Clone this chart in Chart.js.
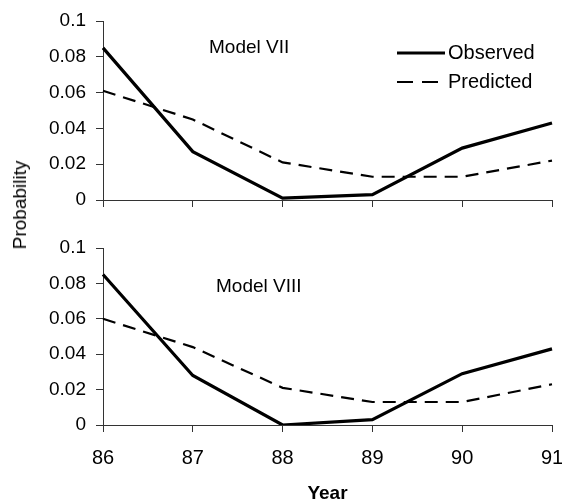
<!DOCTYPE html>
<html>
<head>
<meta charset="utf-8">
<script src="https://cdn.jsdelivr.net/npm/chart.js@4.4.1/dist/chart.umd.min.js"></script>
<style>
  html, body { margin: 0; padding: 0; background: #fff; overflow: hidden; }
  #wrap { position: relative; width: 562px; height: 500px; }
  #c1 { position: absolute; left: 0; top: 0; }
  #c2 { position: absolute; left: 0; top: 230px; }
  #ytitle { position: absolute; left: 20px; top: 205px; transform: translate(-50%, -50%) rotate(-90deg);
            font-family: "Liberation Sans", Arial, sans-serif; font-size: 19px; color: #000; white-space: nowrap; }
</style>
</head>
<body>
<div id="wrap">
  <canvas id="c1" width="562" height="215"></canvas>
  <canvas id="c2" width="562" height="270"></canvas>
  <div id="ytitle">Probability</div>
</div>
<script>
const years = ['86', '87', '88', '89', '90', '91'];
const yTicks = [0, 0.02, 0.04, 0.06, 0.08, 0.1];
const observedVII = [0.085, 0.027, 0.001, 0.003, 0.029, 0.043];
const predictedVII = [0.061, 0.045, 0.021, 0.013, 0.013, 0.022];
const observedVIII = [0.085, 0.028, 0.000, 0.003, 0.029, 0.043];
const predictedVIII = [0.060, 0.044, 0.021, 0.013, 0.013, 0.023];
const seriesNames = ['Observed', 'Predicted'];
const panelTitles = ['Model VII', 'Model VIII'];

const FONT = '"Liberation Sans", Arial, sans-serif';

function makePanel(canvasId, obs, pred, title, opts) {
  const labelPlugin = {
    id: 'panelText',
    afterDraw(chart) {
      const ctx = chart.ctx;
      const a = chart.chartArea;
      ctx.save();
      ctx.fillStyle = '#000';
      ctx.font = '19px ' + FONT;
      ctx.textBaseline = 'middle';
      ctx.textAlign = 'left';
      ctx.fillText(title, a.left + opts.titleDx, a.top + opts.titleDy);
      if (opts.legend) {
        chart.data.datasets.forEach((ds, i) => {
          const y = a.top + 32 + i * 29;
          ctx.beginPath();
          ctx.strokeStyle = ds.borderColor;
          ctx.lineWidth = ds.borderWidth;
          ctx.setLineDash(ds.borderDash ? [16, 9] : []);
          ctx.moveTo(397, y);
          ctx.lineTo(445, y);
          ctx.stroke();
          ctx.setLineDash([]);
          ctx.font = '20px ' + FONT;
          ctx.fillText(ds.label, 448, y);
        });
      }
      ctx.restore();
    }
  };
  return new Chart(document.getElementById(canvasId), {
    type: 'line',
    data: {
      labels: years,
      datasets: [
        { label: seriesNames[0], data: obs, borderColor: '#000', borderWidth: 3.2, pointRadius: 0, tension: 0, fill: false },
        { label: seriesNames[1], data: pred, borderColor: '#000', borderWidth: 2.2, borderDash: [13, 8], pointRadius: 0, tension: 0, fill: false }
      ]
    },
    options: {
      responsive: false,
      animation: false,
      events: [],
      layout: { padding: { top: opts.padTop, right: 10, left: 0, bottom: 0 } },
      plugins: { legend: { display: false }, tooltip: { enabled: false }, title: { display: false } },
      scales: {
        x: {
          type: 'category',
          offset: false,
          afterFit(scale) { scale.height = opts.xHeight; scale.paddingLeft = 0; scale.paddingRight = 0; },
          grid: { display: true, drawOnChartArea: false, drawTicks: true, tickLength: 7, color: '#333' },
          border: { display: true, color: '#333', width: 1 },
          ticks: { display: opts.showX, color: '#000', font: { size: 20, family: FONT }, padding: 14, maxRotation: 0, autoSkip: false },
          title: { display: opts.showX, text: 'Year', color: '#000', font: { size: 19, weight: 'bold', family: FONT, lineHeight: 0.7 }, padding: { top: 0, bottom: 0 } }
        },
        y: {
          min: 0, max: 0.1,
          afterBuildTicks(scale) { scale.ticks = yTicks.map(v => ({ value: v })); },
          afterFit(scale) { scale.width = 103; scale.paddingTop = 0; scale.paddingBottom = 0; },
          grid: { display: true, drawOnChartArea: false, drawTicks: true, tickLength: 7, color: '#333' },
          border: { display: true, color: '#333', width: 1 },
          ticks: { color: '#000', font: { size: 19, family: FONT }, padding: 10,
                   callback: (v) => String(Number(v.toFixed(2))) }
        }
      }
    },
    plugins: [labelPlugin]
  });
}

makePanel('c1', observedVII, predictedVII, panelTitles[0], { padTop: 21, xHeight: 15, showX: false, legend: true, titleDx: 106, titleDy: 27 });
makePanel('c2', observedVIII, predictedVIII, panelTitles[1], { padTop: 18, xHeight: 75, showX: true, legend: false, titleDx: 113, titleDy: 39 });
</script>
</body>
</html>
